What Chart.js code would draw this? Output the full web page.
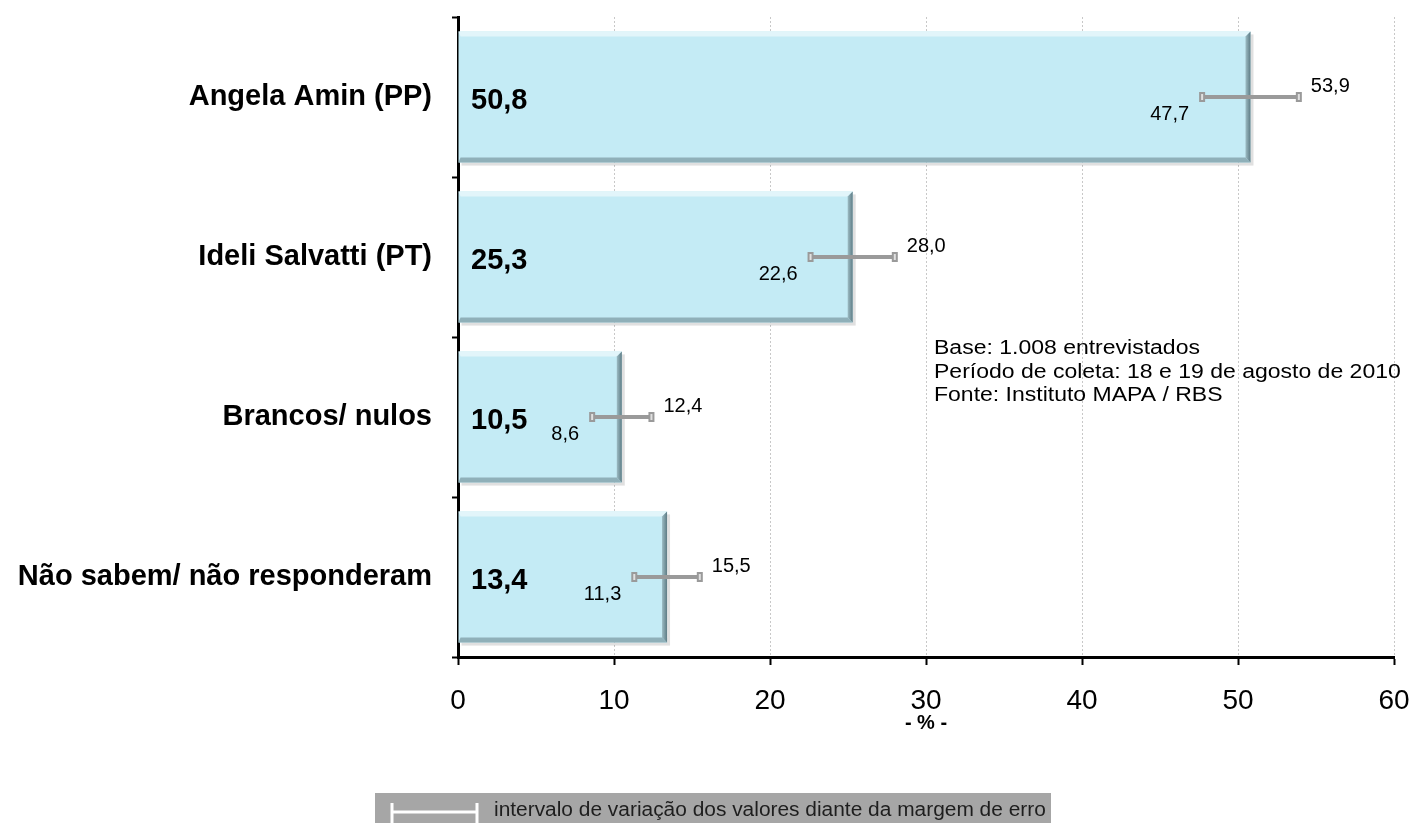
<!DOCTYPE html>
<html>
<head>
<meta charset="utf-8">
<style>
html, body { margin: 0; padding: 0; background: #fff; }
canvas { display: block; }
</style>
</head>
<body>
<canvas id="chart" width="1411" height="823"></canvas>
<script src="https://cdn.jsdelivr.net/npm/chart.js@4.4.0/dist/chart.umd.min.js"></script>
<script>
var categories = ['Angela Amin (PP)', 'Ideli Salvatti (PT)', 'Brancos/ nulos', 'Não sabem/ não responderam'];
var votes = [50.8, 25.3, 10.5, 13.4];
var lowerLimits = [47.7, 22.6, 8.6, 11.3];
var upperLimits = [53.9, 28.0, 12.4, 15.5];
var xMin = 0, xMax = 60, xStep = 10;
var axisTitle = '- % -';
var notes = ['Base: 1.008 entrevistados', 'Período de coleta: 18 e 19 de agosto de 2010', 'Fonte: Instituto MAPA / RBS'];
var legendText = 'intervalo de variação dos valores diante da margem de erro';

var FONT = "'Liberation Sans', Arial, sans-serif";
Chart.defaults.font.family = FONT;

function fmt(v) {
    return v.toFixed(1).replace('.', ',');
}

// text slightly stretched to match the original's wide face
function wideText(ctx, text, x, y, sx) {
    ctx.save();
    ctx.translate(x, y);
    ctx.scale(sx, 1);
    ctx.fillText(text, 0, 0);
    ctx.restore();
}

// bevel + shadow look of the bars
var bevelBars = {
    id: 'bevelBars',
    beforeDatasetsDraw: function (chart) {
        var ctx = chart.ctx;
        chart.getDatasetMeta(0).data.forEach(function (bar) {
            var p = bar.getProps(['x', 'y', 'base', 'height'], true);
            ctx.save();
            ctx.fillStyle = 'rgba(0,0,0,0.12)';
            ctx.fillRect(p.base + 3, p.y - p.height / 2 + 3, p.x - p.base, p.height);
            ctx.restore();
        });
    },
    afterDatasetsDraw: function (chart) {
        var ctx = chart.ctx;
        var b = 5;
        chart.getDatasetMeta(0).data.forEach(function (bar) {
            var p = bar.getProps(['x', 'y', 'base', 'height'], true);
            var l = p.base, r = p.x, t = p.y - p.height / 2, btm = p.y + p.height / 2;
            ctx.save();
            ctx.fillStyle = '#E2F5FA';
            ctx.beginPath();
            ctx.moveTo(l, t); ctx.lineTo(r, t); ctx.lineTo(r - b, t + b); ctx.lineTo(l + 2, t + b);
            ctx.closePath(); ctx.fill();
            ctx.fillStyle = '#8FB0B9';
            ctx.beginPath();
            ctx.moveTo(l, btm); ctx.lineTo(r, btm); ctx.lineTo(r - b, btm - b); ctx.lineTo(l + 2, btm - b);
            ctx.closePath(); ctx.fill();
            var g = ctx.createLinearGradient(r - b, 0, r, 0);
            g.addColorStop(0, '#9DBCC4');
            g.addColorStop(1, '#5E7C85');
            ctx.fillStyle = g;
            ctx.beginPath();
            ctx.moveTo(r, t); ctx.lineTo(r, btm); ctx.lineTo(r - b, btm - b); ctx.lineTo(r - b, t + b);
            ctx.closePath(); ctx.fill();
            ctx.restore();
        });
    }
};

// error bars, value labels, notes and legend
var annotations = {
    id: 'annotations',
    afterDraw: function (chart) {
        var ctx = chart.ctx;
        var xs = chart.scales.x;
        var area = chart.chartArea;
        var meta = chart.getDatasetMeta(0);
        ctx.save();
        meta.data.forEach(function (bar, i) {
            var p = bar.getProps(['y'], true);
            var x0 = xs.getPixelForValue(lowerLimits[i]);
            var x1 = xs.getPixelForValue(upperLimits[i]);
            var y = p.y;
            ctx.fillStyle = '#000';
            ctx.font = 'bold 29px ' + FONT;
            ctx.textAlign = 'left';
            ctx.textBaseline = 'middle';
            ctx.fillText(fmt(votes[i]), xs.getPixelForValue(0) + 13, y + 4);
            ctx.strokeStyle = '#9A9A9A';
            ctx.lineWidth = 4;
            ctx.beginPath();
            ctx.moveTo(x0, y); ctx.lineTo(x1, y);
            ctx.stroke();
            [x0, x1].forEach(function (cx) {
                ctx.fillStyle = '#9A9A9A';
                ctx.fillRect(cx - 3, y - 5, 6, 10);
                ctx.fillStyle = '#E0E0E0';
                ctx.fillRect(cx - 1, y - 3, 2, 6);
            });
            ctx.fillStyle = '#000';
            ctx.font = '20px ' + FONT;
            ctx.textAlign = 'right';
            ctx.fillText(fmt(lowerLimits[i]), x0 - 13, y + 17);
            ctx.textAlign = 'left';
            ctx.fillText(fmt(upperLimits[i]), x1 + 12, y - 11);
        });

        ctx.fillStyle = '#000';
        ctx.font = 'bold 20px ' + FONT;
        ctx.textAlign = 'center';
        ctx.textBaseline = 'middle';
        ctx.fillText(axisTitle, (area.left + area.right) / 2, area.bottom + 66);

        ctx.font = '20px ' + FONT;
        ctx.textAlign = 'left';
        ctx.textBaseline = 'alphabetic';
        notes.forEach(function (line, k) {
            wideText(ctx, line, xs.getPixelForValue(30) + 8, 354 + k * 23.5, 1.15);
        });

        ctx.fillStyle = '#A6A6A6';
        ctx.fillRect(375, 793, 676, 30);
        ctx.strokeStyle = '#fff';
        ctx.lineWidth = 3;
        ctx.beginPath();
        ctx.moveTo(392, 812); ctx.lineTo(477, 812);
        ctx.moveTo(392, 803); ctx.lineTo(392, 823);
        ctx.moveTo(477, 803); ctx.lineTo(477, 823);
        ctx.stroke();
        ctx.fillStyle = '#1E1E1E';
        ctx.font = '20px ' + FONT;
        wideText(ctx, legendText, 494, 816, 1.045);
        ctx.restore();
    }
};

new Chart(document.getElementById('chart').getContext('2d'), {
    type: 'bar',
    data: {
        labels: categories,
        datasets: [{
            label: 'Intenção de voto',
            data: votes,
            backgroundColor: '#C4EBF5',
            borderWidth: 0,
            categoryPercentage: 1,
            barPercentage: 0.82
        }]
    },
    options: {
        indexAxis: 'y',
        responsive: false,
        animation: false,
        layout: { padding: { top: 17, right: 17, left: 0, bottom: 0 } },
        plugins: {
            legend: { display: false },
            tooltip: { enabled: false }
        },
        scales: {
            x: {
                min: xMin,
                max: xMax,
                afterFit: function (scale) {
                    scale.height = 166;
                    scale.paddingLeft = 0;
                    scale.paddingRight = 0;
                },
                ticks: {
                    stepSize: xStep,
                    color: '#000',
                    padding: 19,
                    font: { size: 28 }
                },
                grid: {
                    color: function (c) { return c.tick && c.tick.value === 0 ? 'rgba(0,0,0,0)' : '#C8C8C8'; },
                    lineWidth: 1,
                    tickColor: '#000',
                    tickWidth: 2,
                    tickLength: 8
                },
                border: { color: '#000', width: 3, dash: [2, 2] }
            },
            y: {
                afterFit: function (scale) {
                    scale.width = 458;
                    scale.paddingTop = 0;
                    scale.paddingBottom = 0;
                },
                ticks: {
                    color: '#000',
                    padding: 20,
                    font: { size: 29, weight: 'bold' }
                },
                grid: {
                    offset: true,
                    drawOnChartArea: false,
                    tickColor: '#000',
                    tickWidth: 2,
                    tickLength: 6
                },
                border: { color: '#000', width: 3 }
            }
        }
    },
    plugins: [bevelBars, annotations]
});
</script>
</body>
</html>
